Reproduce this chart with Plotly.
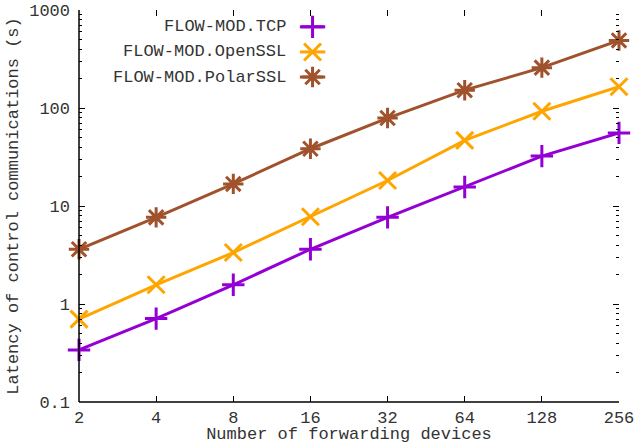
import math
import plotly.graph_objects as go

devices = [2, 4, 8, 16, 32, 64, 128, 256]
tcp = [0.34, 0.71, 1.57, 3.62, 7.66, 15.6, 32.3, 55.7]
openssl = [0.70, 1.57, 3.35, 7.77, 18.2, 46.8, 92.7, 165]
polarssl = [3.62, 7.66, 16.8, 38.4, 79, 152, 258, 489]

series_names = ["FLOW-MOD.TCP", "FLOW-MOD.OpenSSL", "FLOW-MOD.PolarSSL"]
series_values = [tcp, openssl, polarssl]
colors = ["#9400D3", "#FFA500", "#A0522D"]
symbols = ["cross-thin-open", "x-thin-open", "asterisk-open"]
sizes = [16, 17, 17]

y_ticks = [0.1, 1, 10, 100, 1000]
y_tick_labels = ["0.1", "1", "10", "100", "1000"]
y_minor_ticks = [m * d for d in [0.1, 1, 10, 100] for m in range(2, 10)]

FONT = "Courier New, Nimbus Mono PS, FreeMono, Liberation Mono, monospace"
TXT = "#333333"
EPS = 1e-6

fig = go.Figure()
for name, vals, c, s, sz in zip(series_names, series_values, colors, symbols, sizes):
    fig.add_trace(go.Scatter(
        x=devices, y=vals, mode="lines+markers", name=name,
        line=dict(color=c, width=3),
        marker=dict(symbol=s, size=sz, color=c, line=dict(color=c, width=3)),
        showlegend=False, cliponaxis=False,
    ))

# manual gnuplot-style key (text left of sample)
key_y = [0.957, 0.893, 0.829]
for name, c, s, sz, ky in zip(series_names, colors, symbols, sizes, key_y):
    fig.add_trace(go.Scatter(
        x=[0.409, 0.456], y=[ky, ky], xaxis="x2", yaxis="y2", mode="lines",
        line=dict(color=c, width=3), showlegend=False, hoverinfo="skip"))
    fig.add_trace(go.Scatter(
        x=[0.4325], y=[ky], xaxis="x2", yaxis="y2", mode="markers",
        marker=dict(symbol=s, size=sz, color=c, line=dict(color=c, width=3)),
        showlegend=False, hoverinfo="skip", cliponaxis=False))
    fig.add_annotation(x=0.387, y=ky, xref="paper", yref="paper", text=name,
                       showarrow=False, xanchor="right", yanchor="middle",
                       font=dict(family=FONT, size=17, color=TXT))

fig.update_layout(
    width=634, height=444,
    margin=dict(l=79, r=15, t=10, b=42),
    paper_bgcolor="white", plot_bgcolor="white",
    font=dict(family=FONT, size=17, color=TXT),
    xaxis=dict(
        type="log", range=[math.log10(2) - EPS, math.log10(256) + EPS],
        tickvals=devices, ticktext=[str(d) for d in devices],
        ticks="inside", ticklen=6, tickcolor="black", tickwidth=1,
        ticklabelstandoff=3, ticklabeloverflow="allow",
        showline=False, mirror="ticks", showgrid=False, zeroline=False,
        automargin=False,
        title=dict(text="Number of forwarding devices", standoff=0,
                   font=dict(family=FONT, size=17, color=TXT)),
    ),
    yaxis=dict(
        type="log", range=[-1 - EPS, 3 + EPS],
        tickvals=y_ticks, ticktext=y_tick_labels,
        ticks="inside", ticklen=6, tickcolor="black", tickwidth=1,
        ticklabelstandoff=8, ticklabeloverflow="allow",
        minor=dict(ticks="inside", ticklen=3, tickcolor="black", showgrid=False,
                   tickvals=y_minor_ticks),
        showline=False, mirror="ticks", showgrid=False, zeroline=False,
        automargin=False,
        title=dict(text="Latency of control communications (s)", standoff=6,
                   font=dict(family=FONT, size=17, color=TXT)),
    ),
    xaxis2=dict(overlaying="x", range=[0, 1], visible=False),
    yaxis2=dict(overlaying="y", range=[0, 1], visible=False),
    shapes=[
        dict(type="line", xref="paper", yref="paper", x0=0, x1=0, y0=0, y1=1,
             line=dict(color="black", width=1.5)),
        dict(type="line", xref="paper", yref="paper", x0=0, x1=1, y0=0, y1=0,
             line=dict(color="black", width=1.5)),
    ],
)

fig.write_html("out.html", config={"displayModeBar": False},
               post_script="document.body.style.margin='0';")
